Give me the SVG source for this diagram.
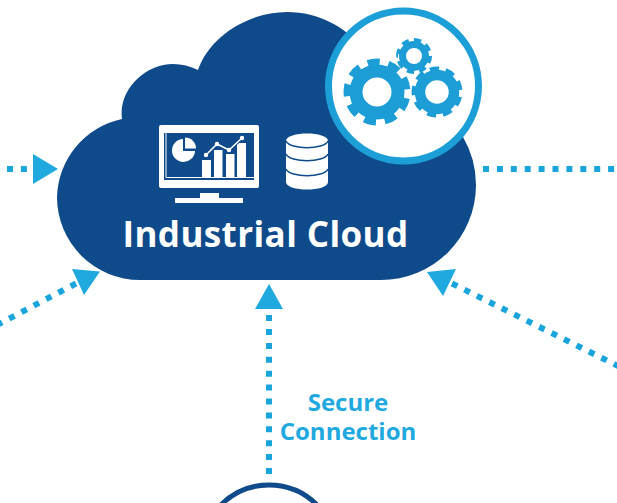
<svg xmlns="http://www.w3.org/2000/svg" width="617" height="503" viewBox="0 0 617 503">
<style>
.dash{fill:none;stroke:#19a5dc;stroke-width:6;stroke-dasharray:6 7.900}
.head{fill:#1fa9df}
.gear{fill:none;stroke:#1c9dd6}
.lbl{font-family:"Open Sans","Noto Sans",sans-serif;font-weight:700;text-anchor:middle}
.w{fill:#fff}
.n{fill:#0f4b8a}
.sep{fill:none;stroke:#0f4b8a;stroke-width:1.500}
</style>
<rect width="617" height="503" fill="#fff"/>
<g id="cloud">
<path fill="#0f4b8a" d="M140 280A83 83 0 0 1 57 197A82 82 0 0 1 122 119C118 90 145 64 173 64C182 64 190 66 198 70C210 35 250 12 287 12C320 12 345 28 360 45L463 137A95 95 0 0 1 476 185A95 95 0 0 1 381 280Z"/>
<text class="lbl w" x="265.500" y="247" font-size="35" letter-spacing=".4">Industrial Cloud</text>
</g>
<g id="connectors">
<path class="dash" d="M7 169H30"/>
<polygon class="head" points="58,169 33,154 33,184"/>
<path class="dash" d="M76 283.500L-3 325"/>
<polygon class="head" points="100,271.500 72,269 84,295"/>
<path class="dash" d="M483 169H620"/>
<path class="dash" d="M452 283.500L620 367"/>
<polygon class="head" points="427,272 456,269 443,296"/>
<path class="dash" d="M269 474V312"/>
<polygon class="head" points="269,284 255,309 283,309"/>
</g>
<g id="monitor">
<rect class="w" x="159" y="125" width="100" height="63" rx="2"/>
<rect class="n" x="164" y="133" width="90" height="47"/>
<path fill="none" stroke="#fff" stroke-width="1" d="M166 133V177.500H254"/>
<path class="w" d="M183 151V139A11.500 11.500 0 1 0 195 151Z"/>
<path class="w" d="M185 137.500A11 11 0 0 1 196 148.500H185Z"/>
<rect class="w" x="202" y="160" width="9" height="17"/>
<rect class="w" x="214" y="150" width="8.500" height="27"/>
<rect class="w" x="226" y="154" width="8.500" height="23"/>
<rect class="w" x="237" y="143" width="9" height="34"/>
<path fill="none" stroke="#0f4b8a" stroke-width="3.500" d="M206 155L217 144L229 150L242 138"/>
<path fill="none" stroke="#fff" stroke-width="1.500" d="M206 155L217 144L229 150L242 138"/>
<circle class="w" cx="206" cy="155" r="2.200"/>
<circle class="w" cx="217" cy="144" r="2.200"/>
<circle class="w" cx="229" cy="150" r="2.200"/>
<circle class="w" cx="242" cy="138" r="2.200"/>
<rect class="w" x="200" y="193" width="19" height="6"/>
<rect class="w" x="175" y="198" width="68" height="5"/>
</g>
<g id="database">
<path class="w" d="M286 141C286 131 328 131 328 141V182C328 192 286 192 286 182Z"/>
<path class="sep" d="M286 141C290 150 324 150 328 141"/>
<path class="sep" d="M286 154C290 163 324 163 328 154"/>
<path class="sep" d="M286 169C290 178 324 178 328 169"/>
</g>
<g id="gears">
<circle cx="403.500" cy="86" r="75" fill="#fff" stroke="#1c9fd7" stroke-width="7"/>
<circle class="gear" cx="377" cy="92" r="21" stroke-width="13"/>
<circle class="gear" cx="377" cy="92" r="30" stroke-width="7" pathLength="18" stroke-dasharray="1.150 .85" transform="rotate(12 377 92)"/>
<circle class="gear" cx="437" cy="92" r="17" stroke-width="10.500"/>
<circle class="gear" cx="437" cy="92" r="23" stroke-width="5" pathLength="18" stroke-dasharray="1.150 .85" transform="rotate(12 437 92)"/>
<circle class="gear" cx="414" cy="56" r="11.500" stroke-width="7"/>
<circle class="gear" cx="414" cy="56" r="16" stroke-width="4" pathLength="16" stroke-dasharray="1.150 .85"/>
</g>
<g id="secure-connection">
<text class="lbl" x="348" y="411" font-size="24" fill="#1fa9df">Secure</text>
<text class="lbl" x="348" y="440" font-size="24" fill="#1fa9df">Connection</text>
</g>
<g id="device">
<circle cx="269" cy="553" r="68" fill="none" stroke="#0f4b8a" stroke-width="5"/>
</g>
</svg>
